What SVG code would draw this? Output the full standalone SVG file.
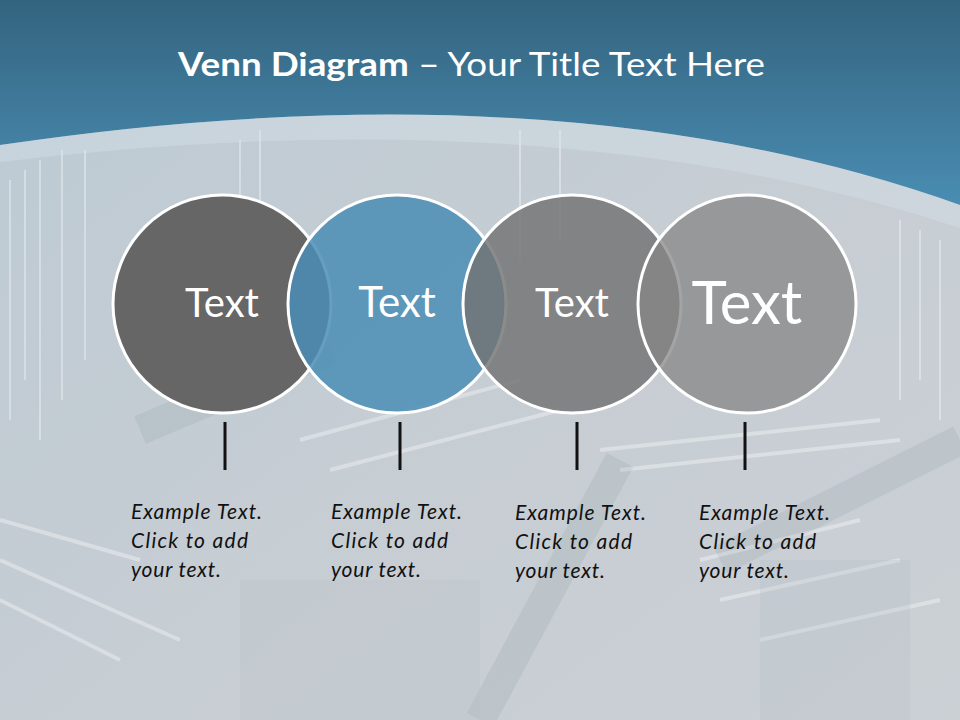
<svg xmlns="http://www.w3.org/2000/svg" width="960" height="720" viewBox="0 0 960 720">
<defs>
<linearGradient id="hdr" x1="0" y1="0" x2="0" y2="1">
<stop offset="0" stop-color="#33647f"/>
<stop offset="1" stop-color="#4a8db3"/>
</linearGradient>
<linearGradient id="body" x1="0" y1="0" x2="1" y2="1">
<stop offset="0" stop-color="#bccad3"/>
<stop offset="0.5" stop-color="#c6cdd3"/>
<stop offset="1" stop-color="#cbd0d5"/>
</linearGradient>
<style>
.c{stroke:#ffffff;stroke-width:3}
.ct{font-family:Lato,"Open Sans",sans-serif;fill:#ffffff;text-anchor:middle}
.ex{font-family:Lato,"Open Sans",sans-serif;font-style:italic;font-size:21px;fill:#111111}
.tick{stroke:#111111;stroke-width:3}
.tx{stroke:#ffffff;stroke-opacity:0.35}
.dk{stroke:#5a6a78;stroke-opacity:0.1}
</style>
</defs>
<rect width="960" height="720" fill="url(#body)"/>
<g id="texture">
<path class="tx" stroke-width="2" d="M10 180V420M25 170V380M40 160V440M62 150V400M85 150V360M240 140V300M260 130V280M520 130V260M560 130V240M900 220V400M920 230V380M940 240V420"/>
<path class="tx" stroke-width="4" d="M0 560L180 640M0 600L120 660M700 560L860 520M720 600L900 560M760 640L940 600M300 440L520 380M330 470L560 410M600 450L880 420M620 470L900 440M0 520L140 560"/>
<path class="dk" stroke-width="30" d="M140 430L330 350M720 560L960 440M480 720L620 460"/>
<rect x="240" y="580" width="240" height="140" fill="#b8c0c6" opacity="0.3"/>
<rect x="760" y="560" width="150" height="160" fill="#b5bcc3" opacity="0.25"/>
</g>
<path id="header" d="M0 0H960V205Q560 62 0 145Z" fill="url(#hdr)"/>
<path d="M0 145Q560 62 960 205V228Q560 95 0 162Z" fill="#dbe6ee" opacity="0.35"/>
<text x="178" y="76" font-family="Lato,'Open Sans',sans-serif" font-size="32" fill="#ffffff" textLength="587" lengthAdjust="spacingAndGlyphs"><tspan font-weight="bold">Venn Diagram</tspan> – Your Title Text Here</text>
<g id="connectors">
<line class="tick" x1="225" y1="422" x2="225" y2="470"/>
<line class="tick" x1="400" y1="422" x2="400" y2="470"/>
<line class="tick" x1="577" y1="422" x2="577" y2="470"/>
<line class="tick" x1="745" y1="422" x2="745" y2="470"/>
</g>
<g id="node1">
<circle class="c" cx="222" cy="304" r="109" fill="#666666"/>
<text class="ct" x="222" y="317" font-size="40">Text</text>
</g>
<g id="node2">
<circle class="c" cx="397" cy="304" r="109" fill="#4a8db5" fill-opacity="0.85"/>
<text class="ct" x="397" y="317" font-size="42">Text</text>
</g>
<g id="node3">
<circle class="c" cx="572" cy="304" r="109" fill="#737373" fill-opacity="0.82"/>
<text class="ct" x="572" y="317" font-size="40">Text</text>
</g>
<g id="node4">
<circle class="c" cx="747" cy="304" r="109" fill="#858585" fill-opacity="0.75"/>
<text class="ct" x="747" y="324" font-size="60">Text</text>
</g>
<g id="labels">
<text class="ex" x="131" y="519" textLength="131">Example Text.</text>
<text class="ex" x="131" y="548" textLength="117">Click  to add</text>
<text class="ex" x="131" y="577" textLength="90">your text.</text>
<text class="ex" x="331" y="519" textLength="131">Example Text.</text>
<text class="ex" x="331" y="548" textLength="117">Click  to add</text>
<text class="ex" x="331" y="577" textLength="90">your text.</text>
<text class="ex" x="515" y="520" textLength="131">Example Text.</text>
<text class="ex" x="515" y="549" textLength="117">Click  to add</text>
<text class="ex" x="515" y="578" textLength="90">your text.</text>
<text class="ex" x="699" y="520" textLength="131">Example Text.</text>
<text class="ex" x="699" y="549" textLength="117">Click  to add</text>
<text class="ex" x="699" y="578" textLength="90">your text.</text>
</g>
</svg>
